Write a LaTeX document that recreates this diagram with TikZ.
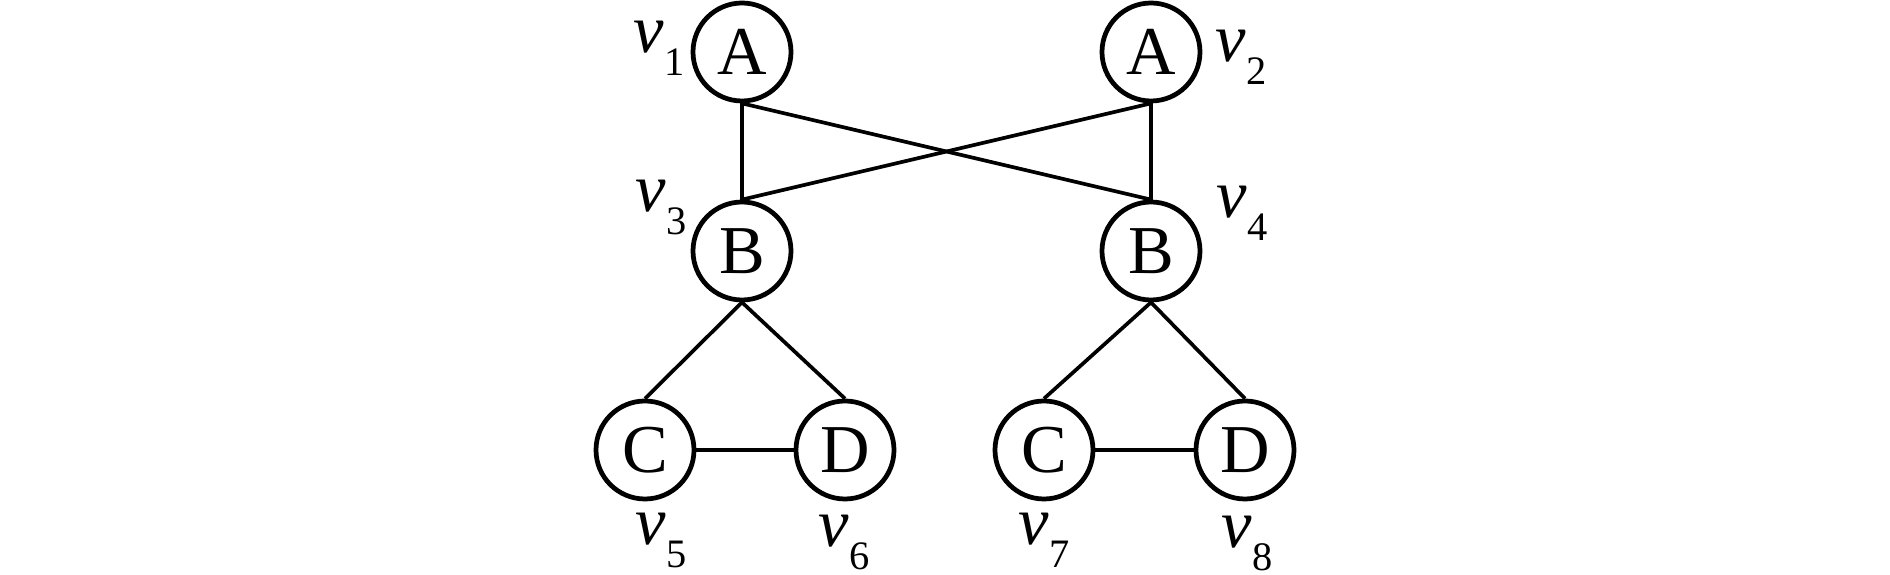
\documentclass[tikz,border=0pt]{standalone}
\usepackage{fontspec}
\setmainfont{Liberation Serif}
\newcommand{\vlab}[1]{{\fontsize{19.5}{19.5}\selectfont\itshape v}\kern0.2pt\raisebox{-6.4pt}{\fontsize{11.5}{11.5}\selectfont #1}}
\begin{document}
\begin{tikzpicture}[
  vert/.style={circle, draw, line width=1.35pt, minimum size=0.98cm, inner sep=0pt, font=\fontsize{19.5}{19.5}\selectfont},
  edge/.style={line width=1.05pt},
  lab/.style={anchor=base west, inner sep=0pt}
]
\useasboundingbox (0,0) rectangle (18.9,-5.75);
\node[vert] (a1) at (7.42,-0.52) {A};
\node[vert] (a2) at (11.51,-0.52) {A};
\node[vert] (b1) at (7.42,-2.51) {B};
\node[vert] (b2) at (11.51,-2.51) {B};
\node[vert] (c1) at (6.45,-4.50) {C};
\node[vert] (d1) at (8.45,-4.50) {D};
\node[vert] (c2) at (10.44,-4.50) {C};
\node[vert] (d2) at (12.45,-4.50) {D};
\draw[edge] (a1.south) -- (b1.north);
\draw[edge] (a2.south) -- (b2.north);
\draw[edge] (a1.south) -- (b2.north);
\draw[edge] (a2.south) -- (b1.north);
\draw[edge] (b1.south) -- (c1.north);
\draw[edge] (b1.south) -- (d1.north);
\draw[edge] (b2.south) -- (c2.north);
\draw[edge] (b2.south) -- (d2.north);
\draw[edge] (c1.east) -- (d1.west);
\draw[edge] (c2.east) -- (d2.west);
\node[lab] (l1) at (6.33,-0.53) {\vlab{1}};
\node[lab] (l2) at (12.15,-0.62) {\vlab{2}};
\node[lab] (l3) at (6.35,-2.12) {\vlab{3}};
\node[lab] (l4) at (12.16,-2.18) {\vlab{4}};
\node[lab] (l5) at (6.35,-5.45) {\vlab{5}};
\node[lab] (l6) at (8.18,-5.47) {\vlab{6}};
\node[lab] (l7) at (10.18,-5.45) {\vlab{7}};
\node[lab] (l8) at (12.21,-5.48) {\vlab{8}};
\end{tikzpicture}
\end{document}
